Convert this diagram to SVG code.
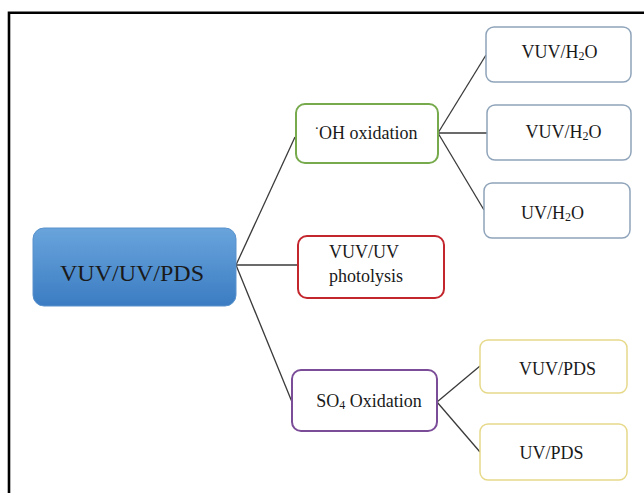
<svg xmlns="http://www.w3.org/2000/svg" width="644" height="493" viewBox="0 0 644 493">
<defs>
<linearGradient id="blueGrad" x1="0" y1="0" x2="0" y2="1">
<stop offset="0" stop-color="#69a4dc"/>
<stop offset="1" stop-color="#3b7cc2"/>
</linearGradient>
<style>
text{font-family:"Liberation Serif","Times New Roman",serif;fill:#1a1a1a;text-anchor:middle}
.t{font-size:18px}
.sub{font-size:12px}
.box{fill:#ffffff}
.leaf{stroke:#8fa4ba;stroke-width:1.5}
.yel{stroke:#e6d98a;stroke-width:1.5}
.conn line{stroke:#3a3a3a;stroke-width:1.3}
</style>
</defs>
<rect width="644" height="493" fill="#ffffff"/>
<path d="M9,495 V12.8 H650" fill="none" stroke="#000" stroke-width="2.6"/>

<g id="connectors" class="conn">
<line x1="236" y1="265" x2="295" y2="137"/>
<line x1="236" y1="265" x2="298" y2="265"/>
<line x1="236" y1="265" x2="292" y2="402"/>
<line x1="438" y1="133" x2="486" y2="55"/>
<line x1="438" y1="133" x2="487" y2="133"/>
<line x1="438" y1="133" x2="484" y2="210"/>
<line x1="437" y1="402" x2="480" y2="366"/>
<line x1="437" y1="402" x2="480" y2="452"/>
</g>

<g id="root">
<rect x="33" y="228" width="203" height="78" rx="11" fill="url(#blueGrad)" stroke="#5a92cc" stroke-width="1"/>
<text x="132" y="281" style="font-size:24px">VUV/UV/PDS</text>
</g>

<g id="oh">
<rect x="296" y="104" width="142" height="59" rx="9" class="box" stroke="#77aa4c" stroke-width="2"/>
<text x="366" y="139" class="t"><tspan dy="-6" style="font-size:14px">·</tspan><tspan dy="6">OH oxidation</tspan></text>
</g>

<g id="photolysis">
<rect x="298" y="236" width="146" height="62" rx="9" class="box" stroke="#c3272d" stroke-width="2"/>
<text x="364" y="257.5" class="t">VUV/UV</text>
<text x="366" y="282" class="t">photolysis</text>
</g>

<g id="so4">
<rect x="292" y="370" width="145" height="61" rx="9" class="box" stroke="#7b4d99" stroke-width="2"/>
<text x="369" y="407" class="t">SO<tspan class="sub" dy="2">4</tspan><tspan dy="-2"> Oxidation</tspan></text>
</g>

<g id="vuvh2o1">
<rect x="486" y="27" width="145" height="55" rx="8" class="box leaf"/>
<text x="559.5" y="57.5" class="t">VUV/H<tspan class="sub" dy="2">2</tspan><tspan dy="-2">O</tspan></text>
</g>

<g id="vuvh2o2">
<rect x="487" y="105" width="144" height="55" rx="8" class="box leaf"/>
<text x="563.5" y="137.5" class="t">VUV/H<tspan class="sub" dy="2">2</tspan><tspan dy="-2">O</tspan></text>
</g>

<g id="uvh2o">
<rect x="484" y="183" width="146" height="55" rx="8" class="box leaf"/>
<text x="552.5" y="218.5" class="t">UV/H<tspan class="sub" dy="2">2</tspan><tspan dy="-2">O</tspan></text>
</g>

<g id="vuvpds">
<rect x="480" y="340" width="147" height="53" rx="8" class="box yel"/>
<text x="557.5" y="374.5" class="t">VUV/PDS</text>
</g>

<g id="uvpds">
<rect x="480" y="424" width="147" height="56" rx="8" class="box yel"/>
<text x="551.5" y="458.5" class="t">UV/PDS</text>
</g>
</svg>
